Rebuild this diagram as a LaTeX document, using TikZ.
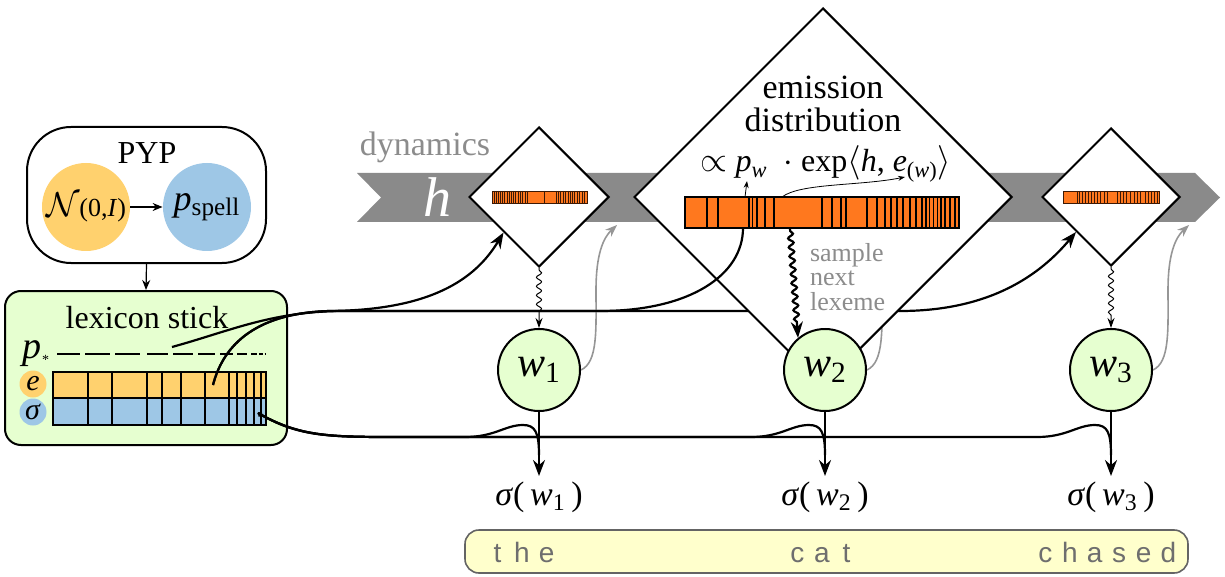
\documentclass[tikz,border=0pt]{standalone}
\usepackage{fontspec}
\setmainfont{Liberation Serif}
\newfontfamily\wordfont{Liberation Sans}
\usetikzlibrary{shapes.geometric,arrows.meta,decorations.pathmorphing}
\definecolor{bandgray}{RGB}{138,138,138}
\definecolor{labgray}{RGB}{140,140,140}
\definecolor{wordgray}{RGB}{110,110,110}
\definecolor{orangec}{RGB}{255,209,110}
\definecolor{bluec}{RGB}{158,199,230}
\definecolor{lightgreen}{RGB}{230,255,208}
\definecolor{barorange}{RGB}{255,120,30}
\definecolor{stripe}{RGB}{60,25,5}
\definecolor{lightyellow}{RGB}{255,255,204}
\definecolor{sentborder}{RGB}{100,100,100}
\definecolor{arrgray}{RGB}{150,150,150}
\newcommand\ltr[1]{\makebox[12.3pt]{#1}}
\newcommand\fs[1]{\fontsize{#1}{#1}\selectfont}
\pgfdeclarelayer{front}
\pgfsetlayers{main,front}
\begin{document}
\begin{tikzpicture}[x=0.5pt,y=-0.5pt,
  conn/.style={line width=1.1pt},
  bigtip/.style={-{Stealth[length=8pt,width=6pt]}},
  grayarr/.style={draw=arrgray, line width=0.8pt, -{Stealth[length=6pt,width=4.5pt]}},
  thinarr/.style={line width=0.4pt, -{Stealth[length=3.5pt,width=2.5pt]}},
  dia/.style={diamond, aspect=1, draw, fill=white, line width=1pt, inner sep=0pt},
  wnode/.style={circle, draw, fill=lightgreen, line width=1pt, minimum size=41pt, inner sep=0pt, font=\fs{21}},
  stripeline/.style={draw=stripe, line width=0.35pt},
  bigstripe/.style={draw=black, line width=0.8pt},
  wavy/.style={decorate, decoration={snake, amplitude=1.3pt, segment length=4.5pt, pre length=1pt, post length=6pt}},
  siglab/.style={font=\fs{17}, anchor=base, inner sep=2.5pt},
  sigarr/.style={line width=1.1pt, -{Stealth[length=8pt,width=6pt]}},
  wordlab/.style={font=\wordfont\fs{14}, text=wordgray, anchor=base west, inner sep=0pt}
]
\useasboundingbox (0,0) rectangle (1225,577);

% dynamics band
\fill[bandgray] (357,173) -- (1195,173) -- (1220,197.5) -- (1195,222) -- (357,222) -- (381,197.5) -- cycle;
\node[text=labgray, font=\fs{17}] (dyn) at (425,147) {dynamics};
\node[text=white, font=\fs{28}\itshape] (hlab) at (437,197) {h};

% PYP
\node[draw, rounded corners=22pt, line width=1pt, minimum width=119.5pt, minimum height=68pt] (pyp) at (146.5,195) {};
\node[font=\fs{16}] (pyplab) at (147,153) {PYP};
\node[circle, fill=orangec, minimum size=44pt, inner sep=0pt, font=\fs{13}] (norm) at (86,207) {{\fs{17}$\mathcal{N}$}(0,\textit{I})};
\node[circle, fill=bluec, minimum size=44pt, inner sep=0pt, font=\fs{18}] (spell) at (207,207) {\textit{p}\textsubscript{spell}};
\draw[line width=0.6pt, -{Stealth[length=5pt,width=4pt]}] (norm) -- (spell);

% lexicon stick
\node[draw, fill=lightgreen, rounded corners=8pt, line width=1pt, minimum width=141pt, minimum height=77pt] (lex) at (146,368) {};
\draw[line width=0.6pt, -{Stealth[length=5pt,width=4pt]}] (pyp.south) -- (lex.north);
\node[font=\fs{16}] (lexlab) at (147,318) {lexicon stick};
\node[font=\fs{19}, inner sep=0pt] (pstar) at (36,354) {\textit{p}\raisebox{-3pt}{\fs{7}*}};
\foreach \a/\b in {57/80,85/110,115/140,147/168,173/193,198/215,220/233,237/247,251/257,259/263,264.5/266}
  \draw[line width=0.9pt] (\a,354) -- (\b,354);
\node[circle, fill=orangec, minimum size=13.5pt, inner sep=0pt, font=\fs{15}] (ec) at (33,384) {\textit{e}};
\node[circle, fill=bluec, minimum size=13.5pt, inner sep=0pt, font=\fs{15}] (sc) at (33,412) {\textit{σ}};
\fill[orangec] (53,372) rectangle (266,398);
\fill[bluec] (53,398) rectangle (266,425);
\draw[line width=0.9pt] (53,372) rectangle (266,425);
\draw[line width=0.9pt] (53,398) -- (266,398);
\foreach \x in {88,112,147,162,181,205,229,237,246,254,261}
  \draw[line width=0.9pt] (\x,372) -- (\x,425);
\coordinate (pstarend) at (172,347);
\coordinate (ecell) at (213,385);
\coordinate (sigcell) at (258,413);

% word nodes (front layer)
\begin{pgfonlayer}{front}
\node[wnode] (w1) at (539,370) {\textit{w}\textsubscript{1}};
\node[wnode] (w2) at (825,370) {\textit{w}\textsubscript{2}};
\node[wnode] (w3) at (1111,370) {\textit{w}\textsubscript{3}};
\end{pgfonlayer}

% small diamonds
\node[dia, minimum size=70pt] (d1) at (539,197) {};
\node[dia, minimum size=69pt] (d3) at (1111,197) {};
\node[fill=barorange, draw=stripe, line width=0.4pt, minimum width=47.5pt, minimum height=6pt, inner sep=0pt] (b1) at (539.5,197) {};
\foreach \x in {494,496,498,500.5,502,504,507,509,511,513,515,518,520,522,525,527,544,556,558,560,563,565,568,570,572,574,577,579,582,584}
  \draw[stripeline] (\x,191) -- (\x,203);
\node[fill=barorange, draw=stripe, line width=0.4pt, minimum width=48pt, minimum height=6pt, inner sep=0pt] (b3) at (1111,197) {};
\foreach \x in {1077,1079,1082,1085,1088,1091,1094,1097,1100,1104,1107,1117,1120,1123,1126,1130,1134,1137,1140,1145,1148,1151,1154,1157}
  \draw[stripeline] (\x,191) -- (\x,203);

% trunk to third diamond (passes behind emission diamond)
\draw[conn,bigtip] (ecell) .. controls (222,350) and (250,313) .. (330,311) -- (900,311) .. controls (990,311) and (1040,275) .. (d3.south west);
% gray feedback arrows
\draw[grayarr] (w1.east) .. controls (598,362) and (596,330) .. (596,290) .. controls (596,255) and (603,238) .. (617,225);
\draw[grayarr] (w2.east) .. controls (884,362) and (882,330) .. (882,290) .. controls (882,255) and (889,238) .. (903,225);
\draw[grayarr] (w3.east) .. controls (1170,362) and (1168,330) .. (1168,290) .. controls (1168,255) and (1175,238) .. (1189,225);

% emission diamond
\node[dia, minimum size=189pt] (de) at (823,197) {};
\node[align=center, font=\fontsize{17}{16.5}\selectfont] (emtxt) at (823,104) {emission\\distribution};
\node[font=\fs{16}] (formula) at (826,164) {$\propto$\ \textit{p}\textsubscript{\textit{w}}\ \ $\cdot$ exp$\langle$\textit{h}, \textit{e}\textsubscript{(\textit{w})}$\rangle$};
\node[fill=barorange, draw=black, line width=0.6pt, minimum width=137pt, minimum height=15.5pt, inner sep=0pt] (ebar) at (822,212.5) {};
\foreach \x in {707,718,749,752.5,757,765,774,822,832,841,846,867,877,885,891,897,903,910,916,922,926,929.5,933.5,937.5,941,945,950,955}
  \draw[bigstripe] (\x,197) -- (\x,228);
\coordinate (ebarin) at (743,228);
\coordinate (ebarout) at (790,229);
\coordinate (pwsrc) at (745,197);
\coordinate (pwtip) at (747,181);
\coordinate (ewsrc) at (782,197);
\coordinate (ewtip) at (905,177);
\draw[thinarr] (pwsrc) -- (pwtip);
\draw[thinarr] (ewsrc) .. controls (800,183) and (860,186) .. (ewtip);
\node[align=left, text=labgray, font=\fontsize{13}{12.3}\selectfont, anchor=west] (samp) at (803,277) {sample\\next\\lexeme};

% connectors from lexicon
\draw[conn] (pstarend) .. controls (230,331) and (270,312) .. (340,311) -- (600,311) .. controls (690,311) and (743,275) .. (ebarin);
\draw[conn,bigtip] (ecell) .. controls (222,350) and (250,313) .. (330,311) .. controls (430,310) and (475,280) .. (d1.south west);

% sampling (wavy) arrows
\draw[wavy, line width=0.5pt, -{Stealth[length=5pt,width=3.5pt]}] (d1.south) -- (w1.north);
\draw[wavy, line width=0.5pt, -{Stealth[length=5pt,width=3.5pt]}] (d3.south) -- (w3.north);
\draw[wavy, line width=1.1pt, bigtip] (ebarout) -- (w2.130);

% spellings
\node[siglab] (s1) at (539,505) {\textit{σ}(\,\textit{w}\textsubscript{1}\,)};
\node[siglab] (s2) at (825,505) {\textit{σ}(\,\textit{w}\textsubscript{2}\,)};
\node[siglab] (s3) at (1111,505) {\textit{σ}(\,\textit{w}\textsubscript{3}\,)};
\draw[conn, {Circle[length=2.5pt]}-] (sigcell) .. controls (300,437) and (330,437) .. (400,437) -- (465,437) .. controls (495,437) and (505,425) .. (523,425) .. controls (535,425) and (539,432) .. (539,455);
\draw[conn] (sigcell) .. controls (300,437) and (330,437) .. (400,437) -- (751,437) .. controls (781,437) and (791,425) .. (809,425) .. controls (821,425) and (825,432) .. (825,455);
\draw[conn] (sigcell) .. controls (300,437) and (330,437) .. (400,437) -- (1037,437) .. controls (1067,437) and (1077,425) .. (1095,425) .. controls (1107,425) and (1111,432) .. (1111,455);
\draw[sigarr] (w1.south) -- (s1.north);
\draw[sigarr] (w2.south) -- (s2.north);
\draw[sigarr] (w3.south) -- (s3.north);

% sentence
\node[draw=sentborder, fill=lightyellow, rounded corners=7pt, line width=0.8pt, minimum width=361.5pt, minimum height=21.5pt] (sent) at (826.5,551.5) {};
\node[wordlab] (wthe) at (484.7,562) {\ltr{t}\ltr{h}\ltr{e}};
\node[wordlab] (wcat) at (784.7,562) {\ltr{c}\ltr{a}\ltr{t}};
\node[wordlab] (wchased) at (1032.7,562) {\ltr{c}\ltr{h}\ltr{a}\ltr{s}\ltr{e}\ltr{d}};
\end{tikzpicture}
\end{document}
